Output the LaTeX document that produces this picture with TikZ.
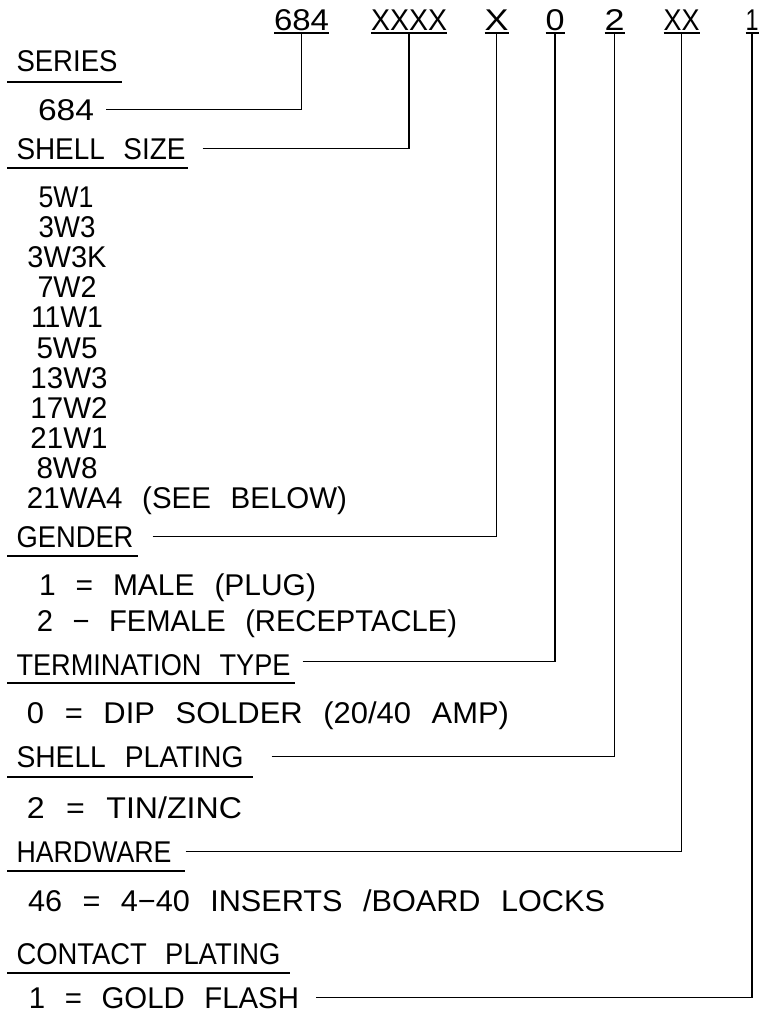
\documentclass[tikz,border=0pt]{standalone}
\usepackage{fontspec}
\setmainfont{Liberation Sans}[WordSpace=2.4]
\usepackage{graphicx}
\newsavebox\lblbox
\newcommand\lbl[2]{\sbox\lblbox{#2}\pgfmathsetmacro\fitr{#1/\the\wd\lblbox}\scalebox{\fitr}[1]{\usebox\lblbox}}
\begin{document}
\begin{tikzpicture}[x=1pt,y=-1pt,
  lab/.style={inner sep=0pt,outer sep=0pt,font=\fontsize{30}{32}\selectfont},
  code/.style={lab,text depth=3pt,anchor=base},
  head/.style={lab,anchor=base west},
  val/.style={lab,anchor=base west},
  item/.style={lab,anchor=base},
  conn/.style={line width=1.6pt},
  uline/.style={line width=1.6pt}]
\useasboundingbox (0,0) rectangle (761,1013);

% part number codes
\node[code] (c684)    at (301.5,30) {\lbl{55}{684}};
\node[code] (cshell)  at (409,30)   {\lbl{76}{XXXX}};
\node[code] (cgender) at (496.5,30) {\lbl{24}{X}};
\node[code] (cterm)   at (555,30)   {\lbl{19}{0}};
\node[code] (cplat)   at (614.5,30) {\lbl{20}{2}};
\node[code] (chard)   at (681.5,30) {\lbl{36}{XX}};
\node[code] (ccont)   at (752,30)   {\lbl{13}{1}};
\foreach \c in {c684,cshell,cgender,cterm,cplat,chard,ccont}
  \draw[uline] (\c.south west) -- (\c.south east);

% headings and values
\node[head] (series) at (16.5,71) {\lbl{101}{SERIES}};
\draw[uline] (7,82) -- (122,82);
\node[val] (s684) at (38,120) {\lbl{56}{684}};
\node[head] (shellsize) at (16.5,159) {\lbl{169}{SHELL SIZE}};
\draw[uline] (7,168) -- (188,168);

\node[item] (i1)  at (66,207) {\lbl{55}{5W1}};
\node[item] (i2)  at (67,237) {\lbl{57}{3W3}};
\node[item] (i3)  at (67,267) {\lbl{79}{3W3K}};
\node[item] (i4)  at (67,297) {\lbl{59}{7W2}};
\node[item] (i5)  at (67,327) {\lbl{72}{11W1}};
\node[item] (i6)  at (67,358) {\lbl{61}{5W5}};
\node[item] (i7)  at (69,388) {\lbl{77}{13W3}};
\node[item] (i8)  at (69,418) {\lbl{77}{17W2}};
\node[item] (i9)  at (69,448) {\lbl{77}{21W1}};
\node[item] (i10) at (67,478) {\lbl{61}{8W8}};
\node[val] (i11) at (27,508) {\lbl{320}{21WA4 (SEE BELOW)}};

\node[head] (gender) at (16.5,547) {\lbl{117}{GENDER}};
\draw[uline] (7,556) -- (138,556);
\node[val] (male) at (39,595) {\lbl{277}{1 = MALE (PLUG)}};
\node[val] (female) at (37,631) {\lbl{420}{2 − FEMALE (RECEPTACLE)}};

\node[head] (term) at (16.5,675) {\lbl{274}{TERMINATION TYPE}};
\draw[uline] (7,683) -- (295,683);
\node[val] (dip) at (27,723) {\lbl{482}{0 = DIP SOLDER (20/40 AMP)}};

\node[head] (splat) at (16.5,767) {\lbl{227}{SHELL PLATING}};
\draw[uline] (7,777) -- (253,777);
\node[val] (tin) at (27,818) {\lbl{215}{2 = TIN/ZINC}};

\node[head] (hard) at (16.5,862) {\lbl{155}{HARDWARE}};
\draw[uline] (7,871) -- (185,871);
\node[val] (inserts) at (28,911) {\lbl{577}{46 = 4−40 INSERTS /BOARD LOCKS}};

\node[head] (contact) at (16.5,964) {\lbl{264}{CONTACT PLATING}};
\draw[uline] (7,973) -- (290,973);
\node[val] (gold) at (29,1008) {\lbl{270}{1 = GOLD FLASH}};

% connectors
\draw[conn] ([xshift=12pt]s684.east) -| (c684.south);
\draw[conn] ([xshift=17pt]shellsize.east) -| (cshell.south);
\draw[conn] ([xshift=19pt]gender.east) -| (cgender.south);
\draw[conn] ([xshift=12pt,yshift=3pt]term.east) -| (cterm.south);
\draw[conn] ([xshift=28pt]splat.east) -| (cplat.south);
\draw[conn] ([xshift=14pt]hard.east) -| (chard.south);
\draw[conn] ([xshift=17pt]gold.east) -| (ccont.south);
\end{tikzpicture}
\end{document}
